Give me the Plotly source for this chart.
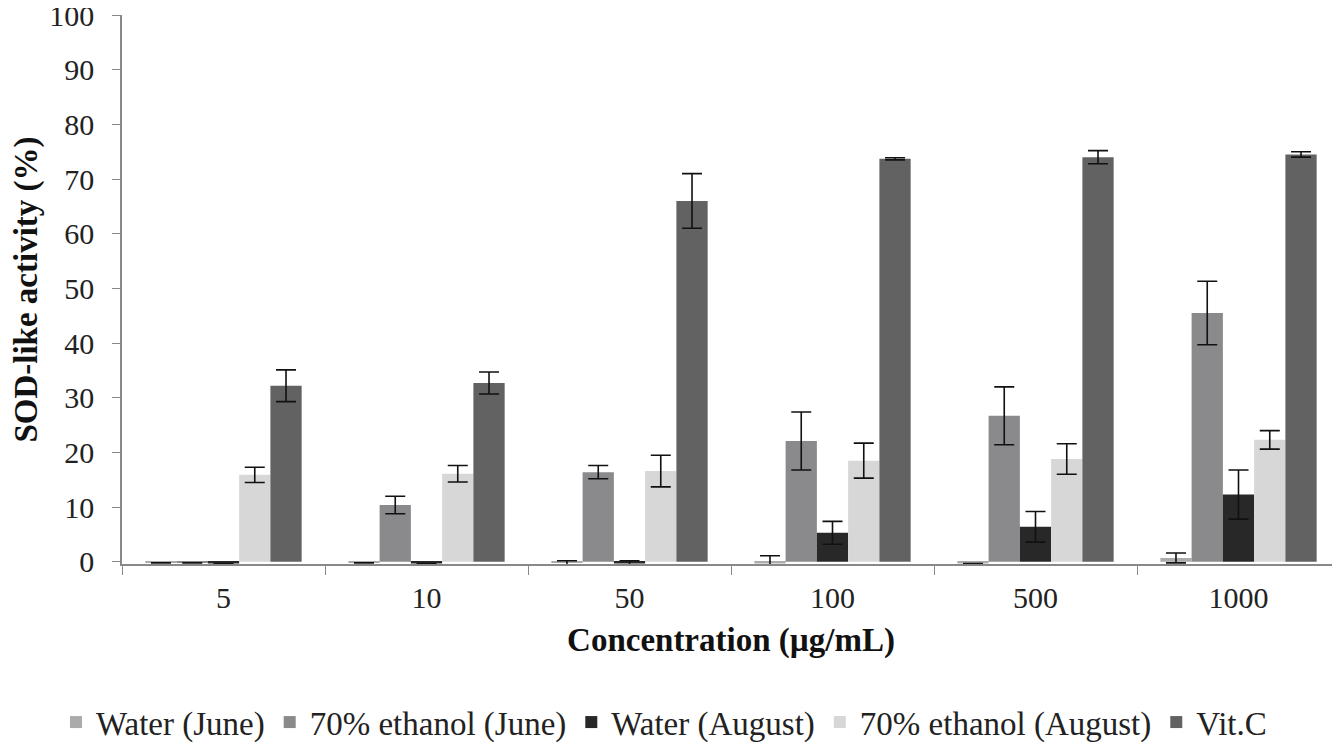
import plotly.graph_objects as go

categories = ["5", "10", "50", "100", "500", "1000"]
series_names = ["Water (June)", "70% ethanol (June)", "Water (August)", "70% ethanol (August)", "Vit.C"]
water_june = [-0.2, -0.2, -0.2, -0.3, -0.3, 0.7]
water_june_err = [0, 0, 0.4, 1.4, 0, 0.9]
ethanol_june = [-0.2, 10.4, 16.4, 22.1, 26.7, 45.5]
ethanol_june_err = [0, 1.6, 1.2, 5.3, 5.3, 5.8]
water_aug = [-0.3, -0.3, -0.3, 5.3, 6.4, 12.3]
water_aug_err = [0, 0, 0.5, 2.1, 2.8, 4.5]
ethanol_aug = [15.9, 16.1, 16.6, 18.5, 18.8, 22.3]
ethanol_aug_err = [1.4, 1.5, 2.9, 3.2, 2.8, 1.7]
vitc = [32.2, 32.7, 66.0, 73.7, 74.0, 74.5]
vitc_err = [2.9, 2.0, 5.0, 0.2, 1.2, 0.5]

colors = ["#ababab", "#8a8a8c", "#282828", "#d7d7d7", "#626262"]
values = [water_june, ethanol_june, water_aug, ethanol_aug, vitc]
errors = [water_june_err, ethanol_june_err, water_aug_err, ethanol_aug_err, vitc_err]

fig = go.Figure()
for name, v, e, c in zip(series_names, values, errors, colors):
    fig.add_trace(go.Bar(
        x=categories, y=v, name=name,
        marker=dict(color=c, line=dict(width=0)),
        error_y=dict(type="data", array=e, visible=True, color="#111111",
                     thickness=1.6, width=10),
    ))

font_family = "Liberation Serif, Times New Roman, serif"
fig.update_layout(
    width=1332, height=736,
    barmode="group", bargap=0.23, bargroupgap=0,
    plot_bgcolor="white", paper_bgcolor="white",
    margin=dict(l=114, r=0, t=7, b=180, autoexpand=False),
    font=dict(family=font_family, size=30, color="#222222"),
    legend=dict(orientation="h", x=0.445, xanchor="center", y=-0.288, yanchor="middle",
                font=dict(family=font_family, size=33, color="#222222"),
                traceorder="normal"),
    xaxis=dict(
        type="category", showgrid=False, showline=True, linecolor="#888888", linewidth=1.5,
        ticks="outside", tickson="boundaries", ticklen=9, tickcolor="#888888",
        automargin=False, ticklabelstandoff=6, ticklabeloverflow="allow",
        tickfont=dict(family=font_family, size=30, color="#222222"),
        title=dict(text="<b>Concentration (µg/mL)</b>", standoff=15,
                   font=dict(family=font_family, size=33, color="#111111")),
    ),
    yaxis=dict(
        range=[-0.4, 100], tickvals=list(range(0, 101, 10)), showgrid=False, zeroline=False,
        showline=True, linecolor="#888888", linewidth=1.5,
        ticks="outside", ticklen=8, tickcolor="#888888",
        automargin=False, ticklabelstandoff=12, ticklabeloverflow="allow",
        tickfont=dict(family=font_family, size=30, color="#222222"),
        title=dict(text="<b>SOD-like activity (%)</b>", standoff=10,
                   font=dict(family=font_family, size=33, color="#111111")),
    ),
)

fig.write_html("out.html")
